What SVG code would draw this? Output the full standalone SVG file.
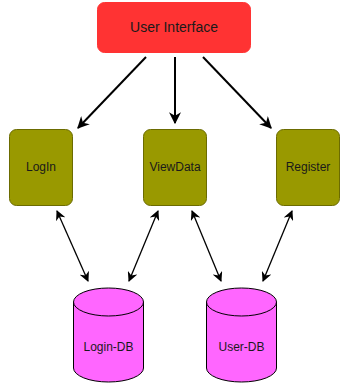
<svg xmlns="http://www.w3.org/2000/svg" width="348" height="387" viewBox="0 0 348 387">
  <defs>
    <marker id="arrow" viewBox="0 0 10 10" refX="9" refY="5" markerWidth="10" markerHeight="10" markerUnits="userSpaceOnUse" orient="auto-start-reverse">
      <path d="M0,0 L10,5 L0,10 L3,5 Z" fill="#000"/>
    </marker>
    <marker id="arrowBig" viewBox="0 0 10 10" refX="9" refY="5" markerWidth="12" markerHeight="12" markerUnits="userSpaceOnUse" orient="auto">
      <path d="M0,0 L10,5 L0,10 L3,5 Z" fill="#000"/>
    </marker>
  </defs>
  <style>
    .label { font-family: "Liberation Sans", Arial, sans-serif; font-size: 12px; fill: #1a1a1a; text-anchor: middle; dominant-baseline: central; }
    .ui { fill: #ff3333; stroke: #ff3333; }
    .svc { fill: #999900; stroke: #6b6b00; stroke-width: 1; }
    .db { fill: #ff66ff; stroke: #000; stroke-width: 1; }
    .flow { stroke: #000; stroke-width: 2; fill: none; }
    .link { stroke: #000; stroke-width: 1.3; fill: none; }
  </style>

  <g id="user-interface">
    <rect class="ui" x="97.5" y="2.5" width="153" height="50" rx="7"/>
    <text class="label" x="174" y="27" style="font-size:14px">User Interface</text>
  </g>

  <g id="login">
    <rect class="svc" x="9.5" y="129.5" width="63" height="76" rx="7"/>
    <text class="label" x="41" y="167">LogIn</text>
  </g>
  <g id="viewdata">
    <rect class="svc" x="143.5" y="129.5" width="63" height="76" rx="7"/>
    <text class="label" x="175" y="167">ViewData</text>
  </g>
  <g id="register">
    <rect class="svc" x="276.5" y="129.5" width="63" height="76" rx="7"/>
    <text class="label" x="308" y="167">Register</text>
  </g>

  <g id="login-db">
    <path class="db" d="M73.5,302 A35,14 0 0 1 143.5,302 L143.5,368 A35,14 0 0 1 73.5,368 Z"/>
    <path class="db" d="M73.5,302 A35,14 0 0 0 143.5,302" fill="none"/>
    <text class="label" x="108.5" y="347">Login-DB</text>
  </g>
  <g id="user-db">
    <path class="db" d="M206.5,302 A35,14 0 0 1 276.5,302 L276.5,368 A35,14 0 0 1 206.5,368 Z"/>
    <path class="db" d="M206.5,302 A35,14 0 0 0 276.5,302" fill="none"/>
    <text class="label" x="241.5" y="347">User-DB</text>
  </g>

  <g id="connectors">
    <line class="flow" x1="146" y1="57" x2="78" y2="128" marker-end="url(#arrowBig)"/>
    <line class="flow" x1="175" y1="57" x2="175" y2="123" marker-end="url(#arrowBig)"/>
    <line class="flow" x1="203" y1="57" x2="271" y2="128" marker-end="url(#arrowBig)"/>
    <line class="link" x1="57" y1="211" x2="88" y2="281" marker-start="url(#arrow)" marker-end="url(#arrow)"/>
    <line class="link" x1="158" y1="211" x2="129" y2="281" marker-start="url(#arrow)" marker-end="url(#arrow)"/>
    <line class="link" x1="192" y1="211" x2="221" y2="281" marker-start="url(#arrow)" marker-end="url(#arrow)"/>
    <line class="link" x1="292" y1="211" x2="263" y2="281" marker-start="url(#arrow)" marker-end="url(#arrow)"/>
  </g>
</svg>
